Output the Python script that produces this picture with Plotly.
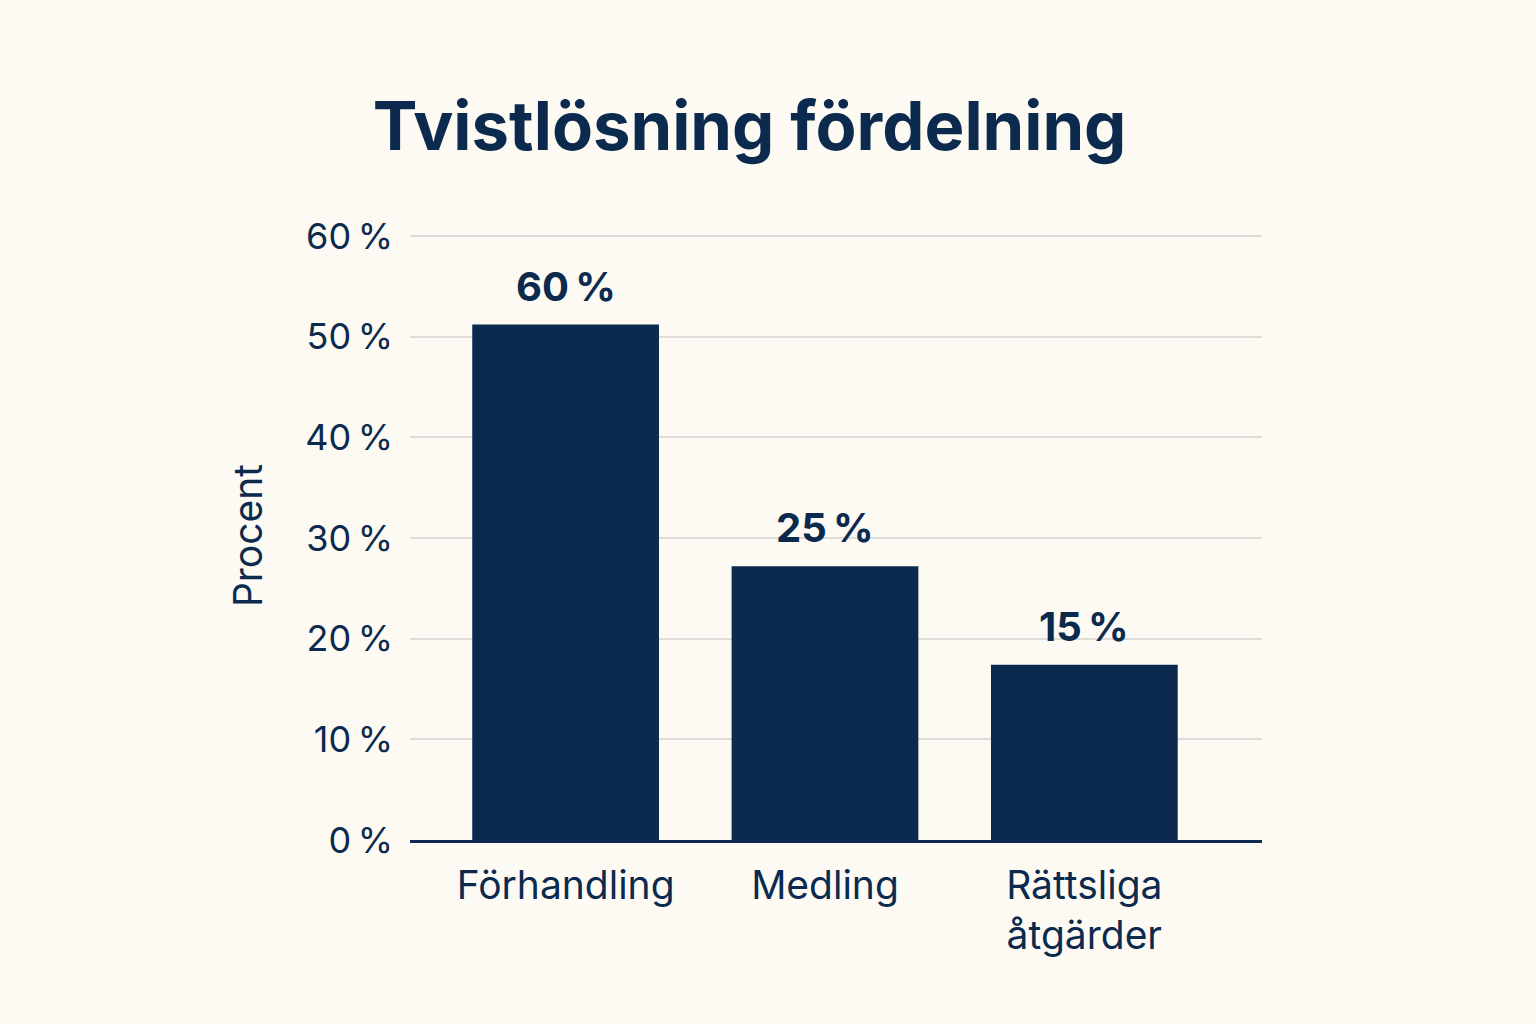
import plotly.graph_objects as go

categories = ["Förhandling", "Medling", "Rättsliga<br>åtgärder"]
bar_heights = [51.2, 27.2, 17.4]          # heights as drawn in the picture
bar_labels = ["60\u202f%", "25\u202f%", "15\u202f%"]  # labels printed above the bars
tick_vals = [0, 10, 20, 30, 40, 50, 60]
tick_text = ["0\u202f%", "10\u202f%", "20\u202f%", "30\u202f%", "40\u202f%", "50\u202f%", "60\u202f%"]

NAVY = "#0b2a4e"
BG = "#fdfaf4"
FONT = "Inter"

fig = go.Figure(
    go.Bar(
        x=categories,
        y=bar_heights,
        marker=dict(color=NAVY, line=dict(width=0)),
        hoverinfo="skip",
    )
)

for cat, h, lab in zip(categories, bar_heights, bar_labels):
    fig.add_annotation(
        x=cat, y=h, text=f"<b>{lab}</b>",
        showarrow=False, yanchor="bottom", yshift=12,
        font=dict(family=FONT, size=40, color=NAVY),
    )

fig.update_layout(
    width=1536,
    height=1024,
    paper_bgcolor=BG,
    plot_bgcolor=BG,
    margin=dict(l=410, r=274, t=231, b=184),
    bargap=0.28,
    showlegend=False,
    title=dict(
        text="<b>Tvistlösning fördelning</b>",
        font=dict(family=FONT, size=67, color=NAVY),
        x=0.488, xref="container", xanchor="center",
        y=1 - 127 / 1024, yref="container", yanchor="middle",
    ),
    font=dict(family=FONT, color=NAVY),
)

fig.update_xaxes(
    range=[-0.6, 2.685],
    showgrid=False,
    showline=True,
    linecolor=NAVY,
    linewidth=2.5,
    ticks="",
    tickfont=dict(family=FONT, size=39, color=NAVY),
    ticklabelstandoff=9,
)

fig.update_yaxes(
    range=[0, 60.5],
    tickvals=tick_vals,
    ticktext=tick_text,
    showgrid=True,
    gridcolor="#dddcd8",
    gridwidth=2,
    zeroline=False,
    showline=False,
    ticks="",
    tickfont=dict(family=FONT, size=36, color=NAVY),
    ticklabelstandoff=16,
    title=dict(text="Procent", font=dict(family=FONT, size=39, color=NAVY), standoff=30),
)

fig.write_html("out.html")
